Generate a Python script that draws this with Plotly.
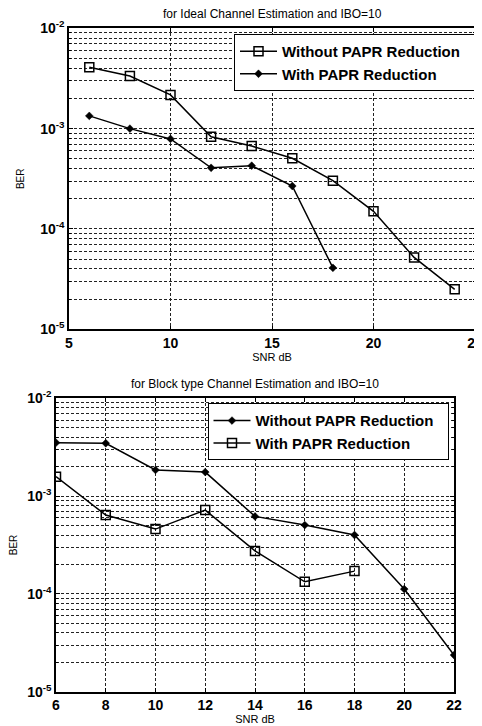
import plotly.graph_objects as go

# ---- data ----
snr_top = [6, 8, 10, 12, 14, 16, 18, 20, 22, 24]
ber_top_without = [4.1e-3, 3.35e-3, 2.17e-3, 8.3e-4, 6.7e-4, 5.06e-4, 3.03e-4, 1.5e-4, 5.2e-5, 2.5e-5]
snr_top_with = [6, 8, 10, 12, 14, 16, 18]
ber_top_with = [1.34e-3, 1.0e-3, 7.9e-4, 4.07e-4, 4.27e-4, 2.68e-4, 4.1e-5]

snr_bot_without = [6, 8, 10, 12, 14, 16, 18, 20, 22]
ber_bot_without = [3.52e-3, 3.47e-3, 1.85e-3, 1.76e-3, 6.2e-4, 5.06e-4, 4.0e-4, 1.12e-4, 2.37e-5]
snr_bot_with = [6, 8, 10, 12, 14, 16, 18]
ber_bot_with = [1.58e-3, 6.4e-4, 4.6e-4, 7.2e-4, 2.75e-4, 1.33e-4, 1.71e-4]

title_top = "for Ideal Channel Estimation and IBO=10"
title_bot = "for Block type Channel Estimation and IBO=10"
name_without = "Without PAPR Reduction"
name_with = "With PAPR Reduction"
x_title = "SNR dB"
y_title = "BER"
x_ticks_top = [5, 10, 15, 20, 25]
x_ticks_bot = [6, 8, 10, 12, 14, 16, 18, 20, 22]
y_decades = [1e-5, 1e-4, 1e-3, 1e-2]
y_decade_text = ["10<sup>-5</sup>", "10<sup>-4</sup>", "10<sup>-3</sup>", "10<sup>-2</sup>"]
y_minor = [m * d for d in [1e-5, 1e-4, 1e-3] for m in range(2, 10)]

FONT = "Liberation Sans, Arial, sans-serif"
GRID = "#222222"
DASH = "3px,2px"
PAD = "&nbsp;&nbsp;"

# page body has an 8px default margin; lay the figure out in window pixels
OFF = 8
W, H = 482 - OFF, 726 - OFF


def px_x(v):
    return (v - OFF) / W


def px_y(v):
    return 1 - (v - OFF) / H


fig = go.Figure()

sq = dict(symbol="square-open", size=9, color="black", line=dict(width=1.5, color="black"))
dm = dict(symbol="diamond", size=6, color="black", line=dict(width=0.5, color="black"))
ln = dict(color="black", width=1.5)

fig.add_trace(go.Scatter(x=snr_top, y=ber_top_without, name=name_without + PAD, mode="lines+markers",
                         line=ln, marker=sq, xaxis="x", yaxis="y", legend="legend"))
fig.add_trace(go.Scatter(x=snr_top_with, y=ber_top_with, name=name_with + PAD, mode="lines+markers",
                         line=ln, marker=dm, xaxis="x", yaxis="y", legend="legend"))
fig.add_trace(go.Scatter(x=snr_bot_without, y=ber_bot_without, name=name_without + PAD, mode="lines+markers",
                         line=ln, marker=dm, xaxis="x2", yaxis="y2", legend="legend2"))
fig.add_trace(go.Scatter(x=snr_bot_with, y=ber_bot_with, name=name_with + PAD, mode="lines+markers",
                         line=ln, marker=sq, xaxis="x2", yaxis="y2", legend="legend2"))


def xax(domain, rng, ticks, anchor):
    return dict(domain=domain, range=rng, tickvals=ticks, ticktext=[f"<b>{t}</b>" for t in ticks],
                anchor=anchor, automargin=False, ticklabeloverflow="allow",
                showline=True, linecolor="black", linewidth=1.5, mirror="allticks",
                ticks="inside", ticklen=4, tickcolor="black",
                showgrid=True, gridcolor=GRID, griddash=DASH, gridwidth=1, zeroline=False,
                tickfont=dict(family=FONT, size=14, color="black"),
                title=dict(text=x_title, font=dict(family=FONT, size=11, color="black"), standoff=2))


def yax(domain, anchor):
    return dict(domain=domain, type="log", range=[-5, -2], tickvals=y_decades,
                ticktext=[f"<b>{t}</b>" for t in y_decade_text], anchor=anchor, automargin=False,
                ticklabeloverflow="allow",
                showline=True, linecolor="black", linewidth=1.5, mirror="allticks",
                ticks="inside", ticklen=4, tickcolor="black",
                showgrid=True, gridcolor=GRID, griddash=DASH, gridwidth=1, zeroline=False,
                minor=dict(tickmode="array", tickvals=y_minor, ticks="inside", ticklen=2,
                           tickcolor="black", showgrid=True, gridcolor=GRID, griddash=DASH, gridwidth=1),
                tickfont=dict(family=FONT, size=14, color="black"),
                title=dict(text=y_title, font=dict(family=FONT, size=10, color="black"), standoff=14))


leg_common = dict(bgcolor="white", bordercolor="black", borderwidth=1,
                  font=dict(family=FONT, size=15, color="black", weight="bold"),
                  xanchor="right", yanchor="top", tracegroupgap=0, itemwidth=37)

fig.update_layout(
    width=W, height=H, autosize=False,
    margin=dict(l=0, r=0, t=0, b=0, autoexpand=False),
    paper_bgcolor="white", plot_bgcolor="white",
    font=dict(family=FONT, color="black"),
    xaxis=xax([px_x(69), px_x(475)], [5, 25], x_ticks_top, "y"),
    yaxis=yax([px_y(329.3), px_y(28.3)], "x"),
    xaxis2=xax([px_x(56), px_x(454)], [6, 22], x_ticks_bot, "y2"),
    yaxis2=yax([px_y(691.7), px_y(398.3)], "x2"),
    legend=dict(x=px_x(475), y=px_y(34), **leg_common),
    legend2=dict(x=px_x(448.5), y=px_y(403.3), **leg_common),
    showlegend=True,
    annotations=[
        dict(text=title_top, x=px_x(272), y=px_y(14), xref="paper", yref="paper",
             xanchor="center", yanchor="middle",
             showarrow=False, font=dict(family=FONT, size=12, color="black")),
        dict(text=title_bot, x=px_x(255), y=px_y(384), xref="paper", yref="paper",
             xanchor="center", yanchor="middle",
             showarrow=False, font=dict(family=FONT, size=12, color="black")),
    ],
)

fig.write_html("out.html")
